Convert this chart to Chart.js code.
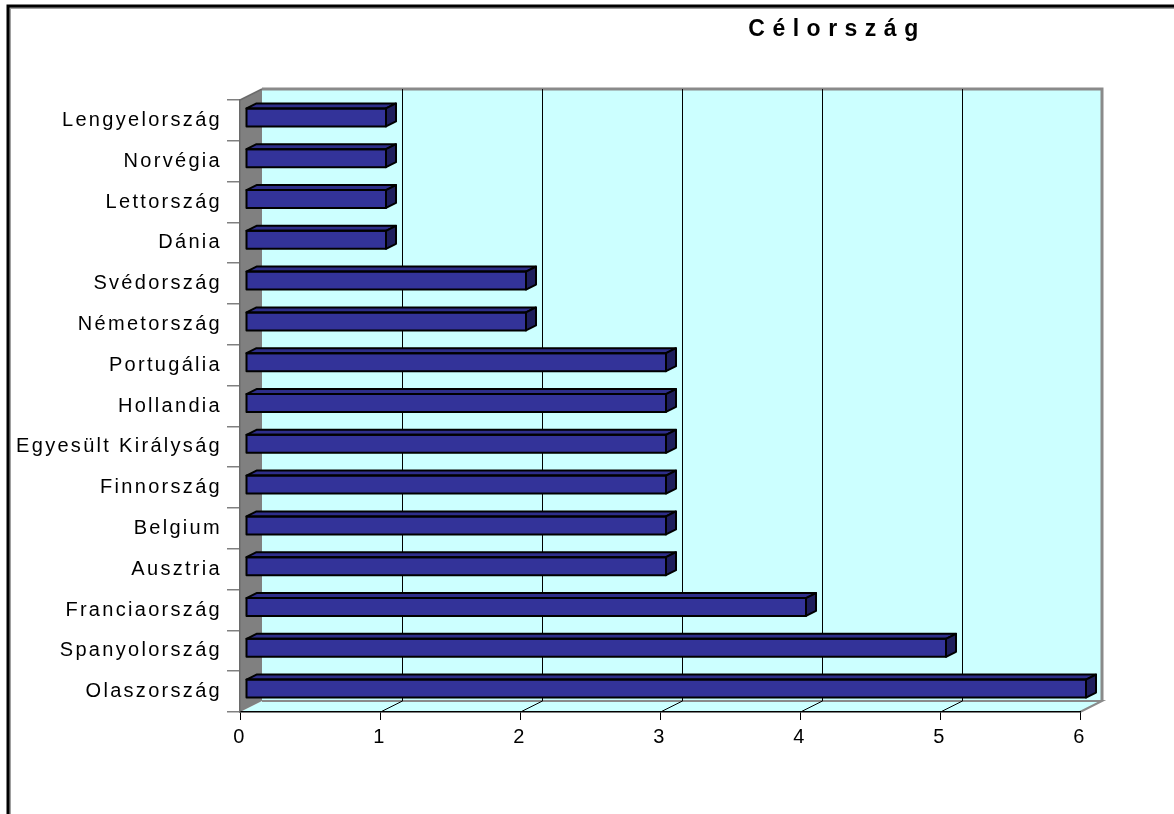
<!DOCTYPE html>
<html>
<head>
<meta charset="utf-8">
<script src="https://cdn.jsdelivr.net/npm/chart.js@4/dist/chart.umd.min.js"></script>
<style>
html,body{margin:0;padding:0;background:#fff;}
#wrap{width:1174px;height:814px;position:relative;}
</style>
</head>
<body>
<div id="wrap"><canvas id="c" width="1174" height="814"></canvas></div>
<script>
const chartTitle = "Célország";
const categories = ["Lengyelország","Norvégia","Lettország","Dánia","Svédország","Németország","Portugália","Hollandia","Egyesült Királyság","Finnország","Belgium","Ausztria","Franciaország","Spanyolország","Olaszország"];
const values = [1,1,1,1,2,2,3,3,3,3,3,3,4,5,6];
const xTicks = [0,1,2,3,4,5,6];

const FONT = "'Liberation Sans', Arial, sans-serif";
const WALL_DX = 22, WALL_DY = -11;   // depth offset of the back wall
const BAR_SHIFT_X = 6, BAR_SHIFT_Y = -3; // bar placement inside depth
const BAR_DX = 10, BAR_DY = -5;       // bar depth

const walls = {
  id: 'walls',
  beforeDraw(chart) {
    const ctx = chart.ctx;
    const a = chart.chartArea;
    const xs = chart.scales.x;
    const L = a.left, R = a.right, T = a.top, B = a.bottom;
    ctx.save();
    // outer frame
    ctx.strokeStyle = '#a0a0a0'; ctx.lineWidth = 2;
    ctx.beginPath(); ctx.moveTo(10, 1200); ctx.lineTo(10, 8); ctx.lineTo(1300, 8); ctx.stroke();
    ctx.strokeStyle = '#000'; ctx.lineWidth = 3;
    ctx.beginPath(); ctx.moveTo(8, 1200); ctx.lineTo(8, 6); ctx.lineTo(1300, 6); ctx.stroke();
    // back wall
    ctx.fillStyle = '#CCFFFF';
    ctx.fillRect(L + WALL_DX, T + WALL_DY, R - L, B - T);
    // floor
    ctx.beginPath();
    ctx.moveTo(L, B); ctx.lineTo(L + WALL_DX, B + WALL_DY); ctx.lineTo(R + WALL_DX, B + WALL_DY); ctx.lineTo(R, B); ctx.closePath();
    ctx.fill();
    // side wall
    ctx.fillStyle = '#808080';
    ctx.beginPath();
    ctx.moveTo(L, T); ctx.lineTo(L + WALL_DX, T + WALL_DY); ctx.lineTo(L + WALL_DX, B + WALL_DY); ctx.lineTo(L, B); ctx.closePath();
    ctx.fill();
    // wall edges
    ctx.strokeStyle = '#8a8a8a'; ctx.lineWidth = 3;
    ctx.beginPath();
    ctx.moveTo(L + WALL_DX, T + WALL_DY); ctx.lineTo(R + WALL_DX, T + WALL_DY); ctx.lineTo(R + WALL_DX, B + WALL_DY);
    ctx.stroke();
    ctx.lineWidth = 2;
    ctx.beginPath();
    ctx.moveTo(L + WALL_DX, B + WALL_DY); ctx.lineTo(R + WALL_DX, B + WALL_DY); ctx.lineTo(R, B);
    ctx.stroke();
    ctx.beginPath();
    ctx.moveTo(L, T); ctx.lineTo(L + WALL_DX, T + WALL_DY);
    ctx.strokeStyle = '#6a6a6a'; ctx.lineWidth = 1.5; ctx.stroke();
    // gridlines on back wall and floor
    ctx.strokeStyle = '#000'; ctx.lineWidth = 1;
    xTicks.forEach(v => {
      if (v === xTicks[0] || v === xTicks[xTicks.length - 1]) return;
      const px = Math.round(xs.getPixelForValue(v)) + 0.5;
      ctx.beginPath();
      ctx.moveTo(px + WALL_DX, T + WALL_DY); ctx.lineTo(px + WALL_DX, B + WALL_DY);
      ctx.moveTo(px + WALL_DX, B + WALL_DY); ctx.lineTo(px, B);
      ctx.stroke();
    });
    ctx.restore();
  },
  beforeDatasetsDraw(chart) {
    chart.ctx.save();
    chart.ctx.translate(BAR_SHIFT_X, BAR_SHIFT_Y);
  },
  afterDatasetsDraw(chart) {
    const ctx = chart.ctx;
    const meta = chart.getDatasetMeta(0);
    ctx.lineWidth = 2; ctx.strokeStyle = '#000'; ctx.lineJoin = 'round';
    meta.data.forEach(el => {
      const p = el.getProps(['x', 'y', 'base', 'height'], true);
      const top = p.y - p.height / 2, bot = p.y + p.height / 2;
      // top face
      ctx.fillStyle = '#2E2E8A';
      ctx.beginPath();
      ctx.moveTo(p.base, top); ctx.lineTo(p.base + BAR_DX, top + BAR_DY);
      ctx.lineTo(p.x + BAR_DX, top + BAR_DY); ctx.lineTo(p.x, top); ctx.closePath();
      ctx.fill(); ctx.stroke();
      // right face
      ctx.fillStyle = '#1E1E5C';
      ctx.beginPath();
      ctx.moveTo(p.x, top); ctx.lineTo(p.x + BAR_DX, top + BAR_DY);
      ctx.lineTo(p.x + BAR_DX, bot + BAR_DY); ctx.lineTo(p.x, bot); ctx.closePath();
      ctx.fill(); ctx.stroke();
      // front face outline
      ctx.strokeRect(p.base, top, p.x - p.base, p.height);
    });
    ctx.restore();
  },
  afterDraw(chart) {
    const ctx = chart.ctx;
    ctx.save();
    ctx.font = "bold 23px " + FONT;
    ctx.fillStyle = '#000';
    ctx.letterSpacing = '7.5px';
    ctx.textAlign = 'center';
    ctx.textBaseline = 'middle';
    ctx.fillText(chartTitle, 837, 30);
    ctx.restore();
  }
};

const spacing = {
  id: 'spacing',
  beforeDraw(chart) { chart.ctx.letterSpacing = '2.3px'; }
};

new Chart(document.getElementById('c'), {
  type: 'bar',
  data: {
    labels: categories,
    datasets: [{
      data: values,
      backgroundColor: '#333399',
      borderColor: '#000',
      borderWidth: 0,
      barPercentage: 0.44,
      categoryPercentage: 1
    }]
  },
  options: {
    indexAxis: 'y',
    responsive: false,
    animation: false,
    events: [],
    layout: { padding: { left: 0, right: 94, top: 100, bottom: 0 } },
    plugins: { legend: { display: false }, tooltip: { enabled: false }, title: { display: false } },
    scales: {
      x: {
        type: 'linear',
        min: 0, max: 6,
        afterBuildTicks(scale) { scale.ticks = xTicks.map(v => ({ value: v })); },
        afterFit(scale) { scale.height = 102; },
        grid: { drawOnChartArea: false, drawTicks: true, tickLength: 8, color: '#000', lineWidth: 1 },
        border: { display: true, color: '#000', width: 1.5 },
        ticks: { color: '#000', font: { family: FONT, size: 20 }, padding: 5 }
      },
      y: {
        afterFit(scale) { scale.width = 240; },
        grid: { drawOnChartArea: false, drawTicks: true, tickLength: 13, color: '#808080', lineWidth: 1.5, offset: true },
        border: { display: true, color: '#6a6a6a', width: 1.5 },
        ticks: { color: '#000', font: { family: FONT, size: 20 }, padding: 5, autoSkip: false }
      }
    }
  },
  plugins: [spacing, walls]
});
</script>
</body>
</html>
